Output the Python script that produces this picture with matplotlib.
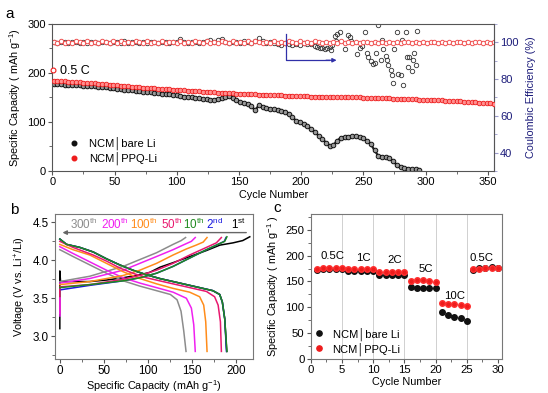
import numpy as np
import matplotlib
matplotlib.use("Agg")
import matplotlib.pyplot as plt
from matplotlib.lines import Line2D
from matplotlib.ticker import MultipleLocator

plt.rcParams['font.family'] = ['Liberation Sans', 'DejaVu Sans']
plt.rcParams['mathtext.fontset'] = 'custom'
plt.rcParams['mathtext.rm'] = 'Liberation Sans'
plt.rcParams['mathtext.it'] = 'Liberation Sans:italic'
plt.rcParams['font.size'] = 8

# ---------------- Panel a data ----------------
ppq_cycles = list(range(1, 356, 3))
ppq_cap = [184,184,183,183,182,182,181,181,180,180,
           179,179,178,178,177,176,176,175,174,174,
           173,172,172,171,170,170,169,169,168,168,
           167,167,166,166,165,165,164,164,163,163,
           162,162,161,161,160,160,160,159,159,158,
           158,158,157,157,157,156,156,156,155,155,
           155,155,154,154,154,153,153,153,153,152,
           152,152,152,151,151,151,151,151,150,150,
           150,150,150,149,149,149,149,148,148,148,
           148,147,147,147,146,146,146,146,145,145,
           145,145,144,144,144,143,143,143,142,142,
           141,141,140,140,139,139,138,138,137]
ppq_first_cycle = [0.5]
ppq_first_cap = [206]
ppq_ce = [100.3,99.6,100.8,99.9,100.2,99.4,100.6,100.0,99.7,100.9,
          99.8,100.4,99.5,100.7,100.1,99.6,100.5,99.9,100.8,99.7,
          100.2,99.5,100.6,100.0,99.8,101.0,99.6,100.3,99.9,100.7,
          99.5,100.4,100.1,99.7,100.9,99.8,100.2,99.6,100.5,100.0,
          99.7,100.8,99.9,100.3,99.5,100.6,100.1,99.8,100.7,99.6,
          100.2,99.9,100.5,99.7,100.8,100.0,99.6,100.4,99.9,100.6,
          99.8,100.3,99.5,100.7,100.1,99.7,100.5,99.9,100.2,99.6,
          100.6,100.0,99.8,100.4,99.7,100.3,99.9,100.5,99.8,100.2,
          99.9,100.4,99.7,100.3,100.0,99.8,100.2,99.9,100.4,99.8,
          100.1,99.9,100.3,99.8,100.2,100.0,99.9,100.3,99.8,100.1,
          99.9,100.2,100.0,99.8,100.3,99.9,100.1,99.8,100.2,100.0,
          99.9,100.2,99.8,100.1,100.0,99.9,100.2,99.8,100.0]

bare_cycles = list(range(1, 296, 3))
bare_cap = [178,177,177,176,176,176,175,175,174,174,
            173,173,172,172,171,170,169,168,167,166,
            165,165,164,163,162,162,161,160,159,158,
            158,157,156,155,153,152,151,150,149,148,
            147,146,145,145,146,148,151,154,148,144,
            141,138,136,132,124,134,131,129,127,126,
            125,123,121,117,110,102,99,95,92,86,
            80,72,65,58,52,53,62,68,69,70,
            71,71,69,67,62,55,42,31,29,28,
            26,20,12,8,6,5,4,4,3]

bare_ce_cycles = list(range(1, 188, 3)) + [
    190,193,196,199,202,205,208,211,213,215,217,219,221,223,224,225,
    227,229,231,228,235,238,239,240,245,247,249,251,253,254,256,258,259,
    260,262,264,265,266,268,269,270,272,273,274,275,277,278,280,281,282,
    284,285,286,287,289,290,291,292,293]
bare_ce = [100.2,99.8,100.1,100.4,99.7,100.0,100.3,99.9,100.2,99.6,
           100.1,100.4,99.8,100.0,100.3,99.7,100.1,100.2,99.9,100.5,
           99.8,100.0,100.3,99.6,100.2,99.9,100.1,100.4,99.8,100.0,
           100.3,99.7,100.2,100.0,101.8,100.3,99.6,100.1,100.4,99.8,
           100.0,100.6,101.5,100.2,101.2,101.8,100.4,99.7,100.3,100.0,
           99.8,100.5,100.2,99.6,101.0,102.5,100.8,99.5,100.2,99.7,
           99.2,98.8,99.5,
           99.0,98.5,99.2,98.7,99.5,98.9,99.3,98.2,97.5,96.8,97.2,96.2,96.8,97.5,96.0,98.5,
           103.3,104.7,105.6,100.5,96.5,104.0,102.7,101.0,93.9,97.0,98.0,105.4,94.3,92.0,89.6,88.0,88.6,
           94.0,109.3,90.6,101.5,96.5,92.5,90.5,87.6,85.0,82.0,77.8,96.5,105.5,82.6,82.0,101.5,76.8,
           105.5,92.2,86.4,92.2,84.5,90.6,94.3,87.6,106.3]

# ---------------- Panel b data ----------------
cycle_labels = ['300', '200', '100', '50', '10', '2', '1']
label_sups = ['th', 'th', 'th', 'th', 'th', 'nd', 'st']
curve_colors = ['#8c8c8c', '#f020f0', '#ff8c1a', '#e8186e', '#1f8a1f', '#1a1ae0', '#000000']

dis_cap = {
    '300': [0, 15, 34, 53, 72, 91, 110, 125.7, 133.3, 137.8, 140.9, 143.5],
    '200': [0, 15, 34, 53, 72, 91, 110, 128.8, 143.9, 149.6, 152.3, 154],
    '100': [0, 15, 34, 53, 72, 91, 110, 128.8, 147.7, 159, 163.6, 165.9, 167.4],
    '50':  [0, 15, 37.9, 53, 68, 83, 98.5, 121, 144, 166.7, 176, 180, 182.6, 183.7],
    '10':  [0, 7.6, 22.7, 37.9, 53, 68, 83, 98.5, 113.6, 128.8, 143.9, 159, 174, 181.8, 184.8, 187.5, 190],
    '2':   [0, 7.6, 22.7, 37.9, 53, 68, 83, 98.5, 113.6, 128.8, 143.9, 159, 174, 181.8, 184.8, 187.5, 189.5],
    '1':   [0, 7.6, 22.7, 37.9, 53, 68, 83, 98.5, 113.6, 128.8, 143.9, 159, 174, 181.8, 184.8, 187.5, 189.8],
}
dis_v = {
    '300': [4.14, 4.05, 3.94, 3.83, 3.73, 3.66, 3.60, 3.55, 3.48, 3.33, 3.07, 2.8],
    '200': [4.18, 4.09, 3.98, 3.87, 3.77, 3.70, 3.64, 3.58, 3.50, 3.37, 3.15, 2.8],
    '100': [4.21, 4.14, 4.07, 3.96, 3.85, 3.76, 3.69, 3.63, 3.58, 3.52, 3.41, 3.19, 2.8],
    '50':  [4.25, 4.17, 4.07, 3.99, 3.90, 3.83, 3.77, 3.71, 3.65, 3.59, 3.52, 3.41, 3.19, 2.8],
    '10':  [4.28, 4.21, 4.17, 4.11, 4.02, 3.94, 3.87, 3.81, 3.76, 3.72, 3.68, 3.64, 3.60, 3.55, 3.45, 3.23, 2.8],
    '2':   [4.28, 4.21, 4.17, 4.11, 4.02, 3.94, 3.87, 3.81, 3.76, 3.72, 3.68, 3.64, 3.60, 3.55, 3.45, 3.23, 2.8],
    '1':   [4.28, 4.21, 4.17, 4.11, 4.02, 3.94, 3.87, 3.81, 3.76, 3.72, 3.68, 3.64, 3.60, 3.55, 3.45, 3.23, 2.8],
}
chg_cap = {
    '300': [0, 34, 72, 91, 110, 128.8, 138, 143],
    '200': [0, 34, 72, 91, 110, 128.8, 140, 149.6, 154],
    '100': [0, 34, 72, 91, 110, 128.8, 144, 155, 163, 167.4],
    '50':  [0, 0, 34, 72, 91, 110, 128.8, 147.7, 166.7, 178, 183.7],
    '10':  [0, 34, 72, 91, 110, 128.8, 147.7, 166.7, 178, 187.5, 190],
    '2':   [0, 34, 72, 91, 110, 128.8, 147.7, 166.7, 178, 187, 189],
    '1':   [0, 0, 0.8, 34, 53, 72, 91, 102, 114, 129, 148, 167, 182, 197, 208, 216],
}
chg_v = {
    '300': [3.72, 3.79, 3.92, 4.01, 4.10, 4.21, 4.26, 4.30],
    '200': [3.70, 3.76, 3.87, 3.96, 4.05, 4.14, 4.20, 4.25, 4.30],
    '100': [3.68, 3.72, 3.80, 3.87, 3.96, 4.07, 4.15, 4.20, 4.24, 4.30],
    '50':  [3.30, 3.65, 3.68, 3.75, 3.80, 3.87, 3.96, 4.07, 4.17, 4.23, 4.30],
    '10':  [3.64, 3.68, 3.73, 3.77, 3.83, 3.92, 4.03, 4.14, 4.20, 4.25, 4.31],
    '2':   [3.61, 3.67, 3.73, 3.77, 3.83, 3.92, 4.03, 4.14, 4.20, 4.25, 4.30],
    '1':   [3.10, 3.86, 3.72, 3.72, 3.74, 3.77, 3.81, 3.84, 3.91, 3.97, 4.05, 4.13, 4.20, 4.23, 4.26, 4.31],
}
rest_curve_v = [3.27, 3.50]   # short rest trace of 200th cycle at 0 mAh/g

# ---------------- Panel c data ----------------
rate_cycles = list(range(1, 31))
rate_bare = [172,174,175,175,174, 171,171,171,171,171, 163,162,162,162,162,
             139,138,137,138,138, 91,85,81,80,74, 173,177,177,178,177]
rate_ppq = [175,176,177,177,176, 174,174,174,174,174, 168,168,168,168,168,
            151,153,152,150,149, 108,106,107,105,103, 174,175,176,177,177]
rate_names = ['0.5C', '1C', '2C', '5C', '10C', '0.5C']
rate_label_x = [3.5, 8.5, 13.5, 18.4, 23.1, 27.4]
rate_label_y = [199, 195, 191, 174, 122, 195]
rate_bounds = [5, 10, 15, 20, 25]

W, H = 548, 393
fig = plt.figure(figsize=(W/100, H/100), dpi=100)

def px_axes(l, r, t, b):
    return fig.add_axes([l/W, 1-b/H, (r-l)/W, (b-t)/H])

def style(ax, spine_col='#555555', lsize=8):
    for s in ax.spines.values():
        s.set_color(spine_col)
        s.set_linewidth(0.8)
    ax.tick_params(which='both', direction='out', color='#555555', labelsize=lsize, pad=1.5)
    ax.tick_params(which='major', length=3)
    ax.tick_params(which='minor', length=2)

navy = '#1c1c7a'
red = '#ee1c1c'
LFS = 7.8

# ---- Panel a ----
ax1 = px_axes(52.3, 494, 24, 171)
style(ax1)
ax2 = ax1.twinx()
ax1.set_zorder(ax2.get_zorder() + 1)
ax1.patch.set_visible(False)
ax1.set_xlim(0, 355)
ax1.set_ylim(0, 300)
ax2.set_ylim(30, 110)
ax1.xaxis.set_major_locator(MultipleLocator(50))
ax1.xaxis.set_minor_locator(MultipleLocator(25))
ax1.yaxis.set_major_locator(MultipleLocator(100))
ax1.yaxis.set_minor_locator(MultipleLocator(50))
ax2.yaxis.set_major_locator(MultipleLocator(20))
ax2.yaxis.set_minor_locator(MultipleLocator(10))
for s in ax2.spines.values():
    s.set_visible(False)
ax2.spines['right'].set_visible(True)
ax2.spines['right'].set_color('#9a9acc')
ax2.spines['right'].set_linewidth(0.8)
ax2.tick_params(which='both', direction='out', color='#9a9acc', labelcolor=navy, labelsize=8, pad=1.5)
ax2.tick_params(which='major', length=3)
ax2.tick_params(which='minor', length=2)

ax2.plot(ppq_cycles, ppq_ce, 'o', ms=3.2, mfc='white', mec='#f05050', mew=0.7, zorder=3)
ax2.plot(bare_ce_cycles, bare_ce, 'o', ms=3.2, mfc='none', mec='#333333', mew=0.6, zorder=2)

ax1.plot(bare_cycles, bare_cap, '-', color='#222222', lw=1.6, zorder=2)
ax1.plot(bare_cycles, bare_cap, 'o', ms=3.3, mfc='#999999', mec='#111111', mew=0.7, zorder=2)
ax1.plot(ppq_cycles, ppq_cap, '-', color=red, lw=1.6, zorder=3)
ax1.plot(ppq_cycles, ppq_cap, 'o', ms=3.3, mfc='#ff9090', mec=red, mew=0.6, zorder=3)
ax1.plot(ppq_first_cycle, ppq_first_cap, 'o', ms=3.5, mfc='white', mec=red, mew=0.8, zorder=3, clip_on=False)

ax1.text(6.5, 205, '0.5 C', fontsize=9, ha='left', va='center')
# blue bracket arrow marking the CE fluctuation region
ax1.plot([187.6, 187.6, 222], [279.6, 226, 226], color='#3030a8', lw=0.9, zorder=4)
ax1.annotate('', xy=(228.5, 226), xytext=(220, 226),
             arrowprops=dict(arrowstyle='-|>', color='#3030a8', lw=0.9,
                             mutation_scale=6, shrinkA=0, shrinkB=0), zorder=4)

ax1.set_xlabel('Cycle Number', fontsize=LFS, labelpad=2)
ax1.set_ylabel('Specific Capacity ( mAh g$^{-1}$)', fontsize=LFS, labelpad=3)
ax2.set_ylabel('Coulombic Efficiency (%)', fontsize=LFS, color=navy, labelpad=5)

hA = [Line2D([], [], ls='none', marker='o', ms=3.3, mfc='#111111', mec='#111111'),
      Line2D([], [], ls='none', marker='o', ms=3.3, mfc=red, mec=red)]
ax1.legend(hA, ['NCM│bare Li', 'NCM│PPQ-Li'], loc='lower left', frameon=False,
           bbox_to_anchor=(0.02, -0.015), handlelength=1.0, handletextpad=0.8,
           labelspacing=0.15, fontsize=8, borderpad=0.2)

# ---- Panel b ----
axb = px_axes(55, 253.3, 214, 359)
style(axb, '#777777', 8.4)
axb.set_xlim(-5.5, 220)
axb.set_ylim(2.7, 4.61)
axb.xaxis.set_major_locator(MultipleLocator(50))
axb.xaxis.set_minor_locator(MultipleLocator(25))
axb.yaxis.set_major_locator(MultipleLocator(0.5))
axb.yaxis.set_minor_locator(MultipleLocator(0.25))
axb.yaxis.set_major_formatter(matplotlib.ticker.FormatStrFormatter('%.1f'))

order = ['1', '2', '300', '200', '100', '50', '10']
for key in order:
    i = cycle_labels.index(key)
    c = curve_colors[i]
    axb.plot(dis_cap[key], dis_v[key], '-', color=c, lw=1.1)
    axb.plot(chg_cap[key], chg_v[key], '-', color=c, lw=1.1)
axb.plot([0, 0], rest_curve_v, '-', color=curve_colors[1], lw=1.1)

axb.annotate('', xy=(3, 4.365), xytext=(212, 4.365),
             arrowprops=dict(arrowstyle='-|>', color='#666666', lw=1.0,
                             mutation_scale=6, shrinkA=0, shrinkB=0))
lab_x = [27.5, 62.5, 96, 127, 152, 176, 203]
for lbl, sup, c, x in zip(cycle_labels, label_sups, curve_colors, lab_x):
    axb.text(x, 4.375, lbl + r'$^{\mathrm{' + sup + '}}$', color=c, fontsize=8.4,
             ha='center', va='bottom')

axb.set_xlabel('Specific Capacity (mAh g$^{-1}$)', fontsize=LFS, labelpad=0.5)
axb.set_ylabel('Voltage (V vs. Li$^{+}$/Li)', fontsize=LFS, labelpad=3)

# ---- Panel c ----
axc = px_axes(310.7, 501.7, 214.3, 359)
style(axc, '#777777', 8.2)
axc.set_xlim(0, 30.6)
axc.set_ylim(0, 280)
axc.xaxis.set_major_locator(MultipleLocator(5))
axc.xaxis.set_minor_locator(MultipleLocator(2.5))
axc.yaxis.set_major_locator(MultipleLocator(50))
axc.yaxis.set_minor_locator(MultipleLocator(25))
for xb in rate_bounds:
    axc.axvline(xb, color='#d0d0d0', lw=0.7, zorder=0)
axc.plot(rate_cycles, rate_bare, 'o', ms=4.0, color='#111111', mec='#111111', zorder=2)
axc.plot(rate_cycles, rate_ppq, 'o', ms=4.0, color=red, mec='#ff3030', zorder=3)
for name, x, y in zip(rate_names, rate_label_x, rate_label_y):
    axc.text(x, y, name, fontsize=8.2, ha='center', va='center')
axc.set_xlabel('Cycle Number', fontsize=LFS, labelpad=1)
axc.set_ylabel('Specific Capacity ( mAh g$^{-1}$ )', fontsize=LFS, labelpad=3)
hC = [Line2D([], [], ls='none', marker='o', ms=3.8, mfc='#111111', mec='#111111'),
      Line2D([], [], ls='none', marker='o', ms=3.8, mfc=red, mec=red)]
axc.legend(hC, ['NCM│bare Li', 'NCM│PPQ-Li'], loc='lower left', frameon=False,
           bbox_to_anchor=(-0.025, -0.03), handlelength=1.0, handletextpad=0.7,
           labelspacing=0.15, fontsize=8, borderpad=0.2)

# panel letters
fig.text(5/W, 1-14/H, 'a', fontsize=11, va='center', ha='left')
fig.text(10/W, 1-210/H, 'b', fontsize=11, va='center', ha='left')
fig.text(273/W, 1-208/H, 'c', fontsize=11, va='center', ha='left')

fig.savefig('out.png', dpi=100)
